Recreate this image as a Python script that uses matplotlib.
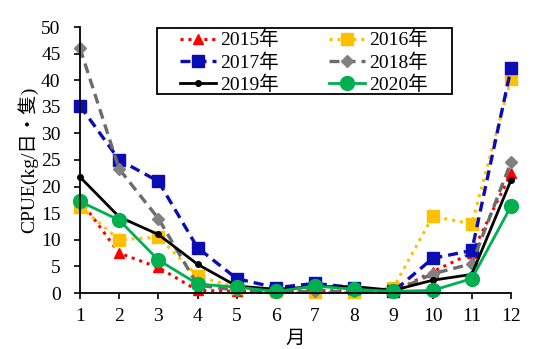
import matplotlib
matplotlib.use("Agg")
import matplotlib.pyplot as plt
from matplotlib.patches import Rectangle

plt.rcParams['font.family'] = ['Liberation Serif', 'Noto Sans CJK SC', 'DejaVu Sans']

months = [1, 2, 3, 4, 5, 6, 7, 8, 9, 10, 11, 12]
cpue_2015 = [17.5, 7.5, 4.8, 0.5, 0.3, 0.2, 0.5, 0.3, 0.2, 4.0, 7.5, 22.5]
cpue_2016 = [16.2, 10.0, 10.5, 3.2, 1.0, 0.3, 0.1, 0.1, 1.0, 14.4, 13.0, 40.3]
cpue_2017 = [35.2, 25.0, 21.0, 8.5, 2.7, 1.0, 1.8, 1.0, 0.3, 6.5, 8.0, 42.2]
cpue_2018 = [46.0, 23.3, 14.0, 1.5, 0.5, 0.2, 0.3, 0.3, 0.2, 3.6, 5.5, 24.6]
cpue_2019 = [21.8, 14.3, 11.0, 5.4, 1.3, 0.7, 1.2, 1.2, 0.5, 2.4, 3.5, 21.2]
cpue_2020 = [17.2, 13.7, 6.2, 1.7, 1.1, 0.3, 1.3, 0.7, 0.3, 0.5, 2.7, 16.3]

W, H = 540, 349
fig = plt.figure(figsize=(W / 100, H / 100), dpi=100)
ax = fig.add_axes([80 / W, 1 - 293 / H, (511 - 80) / W, (293 - 27) / H])

dot = (0, (1, 1.6))
dash = (0, (3, 1.8))
l15, = ax.plot(months, cpue_2015, color='#ff0000', linestyle=dot, linewidth=2.2,
               marker='^', markersize=7, label='2015年')
l16, = ax.plot(months, cpue_2016, color='#ffc000', linestyle=dot, linewidth=2.2,
               marker='s', markersize=8, label='2016年')
l17, = ax.plot(months, cpue_2017, color='#0c0cb4', linestyle=dash, linewidth=2.4,
               marker='s', markersize=8.5, label='2017年')
l18, = ax.plot(months, cpue_2018, color='#6b6b6b', linestyle=dash, linewidth=2.4,
               marker='D', markersize=6, markerfacecolor='#808080',
               markeredgecolor='#808080', label='2018年')
l19, = ax.plot(months, cpue_2019, color='black', linestyle='-', linewidth=2,
               marker='o', markersize=4, label='2019年')
l20, = ax.plot(months, cpue_2020, color='#00b050', linestyle='-', linewidth=2,
               marker='o', markersize=10, label='2020年')

ax.set_xlim(1, 12)
ax.set_ylim(0, 50)
ax.set_xticks(months)
ax.set_yticks(range(0, 51, 5))
ax.spines['top'].set_visible(False)
ax.spines['right'].set_visible(False)
ax.spines['left'].set_linewidth(1.3)
ax.spines['bottom'].set_linewidth(1.3)
ax.tick_params(axis='both', direction='out', length=4, width=1.2, labelsize=14)
ax.tick_params(axis='y', pad=10)
ax.tick_params(axis='x', pad=7)
ax.set_xlabel('月', fontsize=14, labelpad=4)
ax.set_ylabel('CPUE(kg/日・隻)', fontsize=14, labelpad=2)
for line in ax.get_lines():
    line.set_clip_on(False)

# legend frame drawn separately so its padding can be set exactly
fig.patches.append(Rectangle((157 / W, 1 - 94 / H), (452 - 157) / W, (94 - 28) / H,
                             transform=fig.transFigure, fill=True, facecolor='white',
                             edgecolor='black', linewidth=1.3, zorder=5))
# column-major order so the entries read row by row: 2015 2016 / 2017 2018 / 2019 2020
handles = [l15, l17, l19, l16, l18, l20]
leg = fig.legend(handles, [h.get_label() for h in handles], ncol=2,
                 loc='upper left', bbox_to_anchor=(180 / W, 1 - 31 / H),
                 fontsize=14, frameon=False, handlelength=1.85,
                 columnspacing=2.6, labelspacing=0.2, borderpad=0,
                 handletextpad=0.2, borderaxespad=0)
leg.set_zorder(6)

fig.savefig('out.png', dpi=100)
